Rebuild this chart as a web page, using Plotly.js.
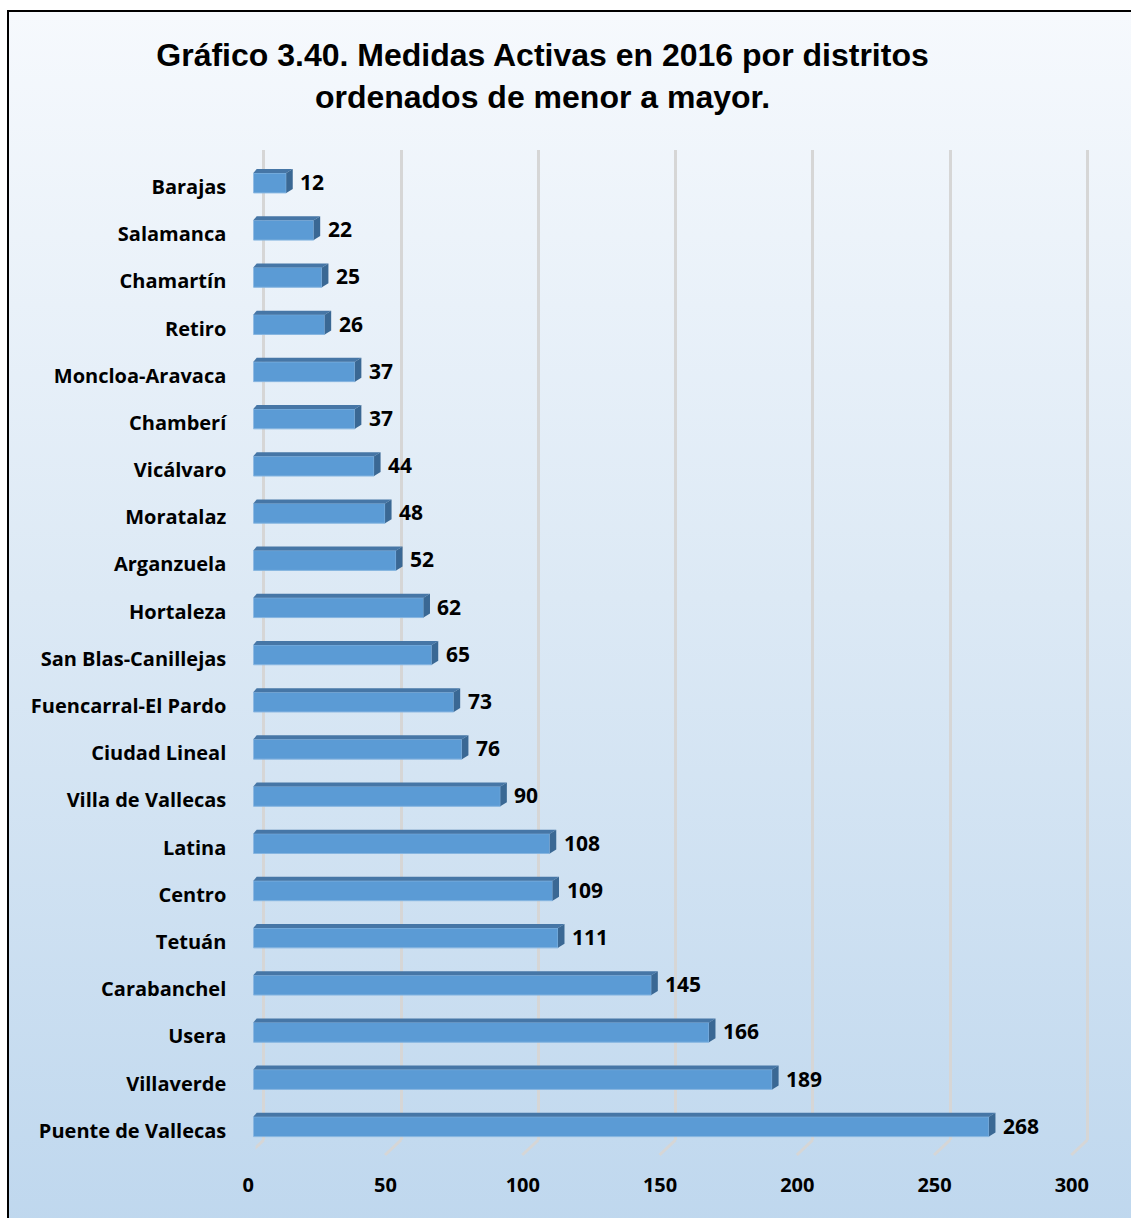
<!DOCTYPE html>
<html>
<head>
<meta charset="utf-8">
<script src="https://cdn.plot.ly/plotly-3.0.1.min.js"></script>
<style>
  html, body { margin:0; padding:0; width:1131px; height:1218px; overflow:hidden; background:#ffffff; }
  #frame { position:absolute; left:7px; top:10px; width:1200px; height:1300px;
           border-left:2px solid #000; border-top:2px solid #000;
           background:linear-gradient(to bottom, #F6F9FD 0%, #DCE9F5 45%, #BBD5ED 100%); }
  #chart { position:absolute; left:0; top:0; width:1131px; height:1218px; }
</style>
</head>
<body>
<div id="frame"></div>
<div id="chart"></div>
<script>
// ---- data ----
const categories = ["Barajas","Salamanca","Chamartín","Retiro","Moncloa-Aravaca","Chamberí","Vicálvaro","Moratalaz","Arganzuela","Hortaleza","San Blas-Canillejas","Fuencarral-El Pardo","Ciudad Lineal","Villa de Vallecas","Latina","Centro","Tetuán","Carabanchel","Usera","Villaverde","Puente de Vallecas"];
const values = [12,22,25,26,37,37,44,48,52,62,65,73,76,90,108,109,111,145,166,189,268];
const xTicks = [0,50,100,150,200,250,300];
const titleText = "Gráfico 3.40. Medidas Activas en 2016 por distritos<br>ordenados de menor a mayor.";

// ---- layout constants (pixels) ----
const W = 1131, H = 1218;
const frontX0 = 253.3, frontX1 = 1076.8, backShift = 10.5;
const barsTop = 159.4, barsBottom = 1150.3;
const gridTop = 150, gridBottom = 1140;
const xMax = 300, gridPad = 3;
const idx = categories.map((c,i)=>i);
const rowPx = (barsBottom - barsTop) / categories.length;
const barWidth = 0.42;
const halfBar = barWidth * rowPx / 2;
const ppu = (frontX1 - frontX0) / xMax;
const depthR = 6.5, depthL = 3.4, depthY = 4;

const labelFont = {family:"'Open Sans', sans-serif", size:20, color:"#000", weight:"bold"};
const valueFont = {family:"'Open Sans', sans-serif", size:21, color:"#000", weight:"bold"};

const traces = [
  { // invisible anchor trace for the back-wall grid subplot
    type:"scatter", mode:"markers", x:[0], y:[0], xaxis:"x", yaxis:"y",
    marker:{opacity:0}, hoverinfo:"skip", showlegend:false
  },
  {
    type:"bar", orientation:"h", x:values, y:idx, xaxis:"x2", yaxis:"y2",
    width:barWidth, marker:{color:"#5B9BD5", line:{color:"#86B5E0", width:1}},
    showlegend:false, hoverinfo:"x+text", text:categories, textposition:"none"
  }
];

const shapes = [];
// floor diagonal parts of the grid lines
xTicks.forEach(t=>{
  shapes.push({type:"line", layer:"below", xref:"x", yref:"y domain",
    xsizemode:"pixel", xanchor:t, x0:0, x1:-16,
    ysizemode:"pixel", yanchor:0, y0:0, y1:-15,
    line:{color:"#D6D6D6", width:3}});
});
// 3D faces of the bars
values.forEach((v,i)=>{
  shapes.push({type:"path", xref:"x2", yref:"y2", xsizemode:"scaled",
    ysizemode:"pixel", yanchor:i,
    path:`M 0,${halfBar} L ${v},${halfBar} L ${v+depthR/ppu},${halfBar+depthY} L ${depthL/ppu},${halfBar+depthY} Z`,
    fillcolor:"#4676A6", line:{width:0}});
  shapes.push({type:"path", xref:"x2", yref:"y2", xsizemode:"pixel", xanchor:v,
    ysizemode:"pixel", yanchor:i,
    path:`M 0,${-halfBar} L 0,${halfBar} L ${depthR},${halfBar+depthY} L ${depthR},${-halfBar+depthY} Z`,
    fillcolor:"#3A6894", line:{width:0}});
});

const annotations = values.map((v,i)=>({
  x:v, y:i, xref:"x2", yref:"y2", text:String(v), showarrow:false,
  xanchor:"left", yanchor:"middle", xshift:12, yshift:1, font:valueFont
}));

const layout = {
  width:W, height:H,
  margin:{l:0,r:0,t:0,b:0},
  paper_bgcolor:"rgba(0,0,0,0)", plot_bgcolor:"rgba(0,0,0,0)",
  showlegend:false,
  title:{text:titleText, x:542.5/W, xanchor:"center", xref:"container",
         y:1-66/H, yanchor:"middle", yref:"container",
         font:{family:"'Liberation Sans', Arial, sans-serif", size:32, color:"#000", weight:"bold"}},
  xaxis:{domain:[(frontX0+backShift-gridPad*ppu)/W,(frontX1+backShift+gridPad*ppu)/W], range:[-gridPad,xMax+gridPad], anchor:"y",
         tickvals:xTicks, showgrid:true, gridcolor:"#D6D6D6", gridwidth:3,
         showticklabels:false, zeroline:false, showline:false, ticks:"", fixedrange:true},
  yaxis:{domain:[(H-gridBottom)/H,(H-gridTop)/H], range:[0,1], anchor:"x",
         visible:false, showgrid:false, zeroline:false, fixedrange:true},
  xaxis2:{domain:[frontX0/W, frontX1/W], range:[0,xMax], anchor:"y2",
          tickvals:xTicks, ticktext:xTicks.map(String), showgrid:false, zeroline:false, showline:false,
          ticks:"", tickfont:labelFont, ticklabelstandoff:21, ticklabelshift:-5, fixedrange:true},
  yaxis2:{domain:[(H-barsBottom)/H,(H-barsTop)/H], range:[categories.length-0.5,-0.5], anchor:"x2",
          tickvals:idx, ticktext:categories, showgrid:false, zeroline:false, showline:false,
          ticks:"", tickfont:labelFont, ticklabelstandoff:26, ticklabelshift:-4, fixedrange:true},
  shapes:shapes,
  annotations:annotations
};

Plotly.newPlot("chart", traces, layout, {displayModeBar:false, staticPlot:true});
</script>
</body>
</html>
